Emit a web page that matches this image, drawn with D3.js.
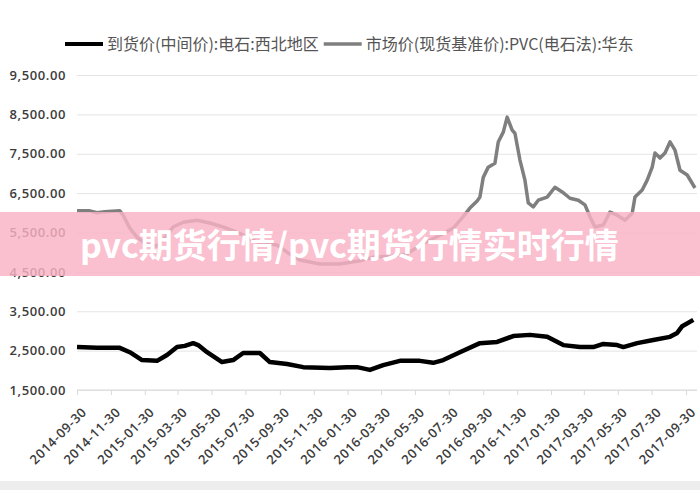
<!DOCTYPE html>
<html>
<head>
<meta charset="utf-8">
<script src="https://d3js.org/d3.v7.min.js"></script>
<style>
  body { margin: 0; background: #fff; }
  svg { display: block; }
</style>
</head>
<body>
<script>
'use strict';

// legend names
const seriesNames = ["到货价(中间价):电石:西北地区", "市场价(现货基准价):PVC(电石法):华东"];

// 到货价 电石 西北地区 (black line)
const carbideDates = ["2014-09-30", "2014-11-05", "2014-12-16", "2015-01-03", "2015-01-25", "2015-02-21",
  "2015-03-11", "2015-03-29", "2015-04-12", "2015-04-27", "2015-05-06", "2015-05-22", "2015-06-18",
  "2015-07-08", "2015-07-26", "2015-08-25", "2015-09-12", "2015-10-13", "2015-11-11", "2015-12-29",
  "2016-01-29", "2016-02-16", "2016-03-10", "2016-04-03", "2016-05-03", "2016-06-08", "2016-07-02",
  "2016-07-20", "2016-08-19", "2016-09-24", "2016-10-25", "2016-11-23", "2016-12-23", "2017-01-23",
  "2017-02-21", "2017-03-23", "2017-04-16", "2017-05-04", "2017-05-29", "2017-06-09", "2017-07-04",
  "2017-08-02", "2017-09-01", "2017-09-14", "2017-09-23", "2017-10-13"];
const carbideValues = [2590, 2570, 2570, 2460, 2260, 2240,
  2390, 2590, 2620, 2690, 2640, 2460, 2210,
  2260, 2440, 2440, 2210, 2160, 2080, 2060,
  2080, 2080, 2010, 2130, 2240, 2240, 2190,
  2260, 2460, 2690, 2720, 2870, 2900, 2850,
  2640, 2590, 2590, 2670, 2640, 2590, 2690,
  2770, 2850, 2950, 3120, 3280];

// 市场价 PVC 华东 (gray line)
const pvcDates = ["2014-09-30", "2014-10-23", "2014-11-05", "2014-11-19", "2014-12-16", "2014-12-22",
  "2015-01-03", "2015-01-16", "2015-02-03", "2015-02-21", "2015-03-09", "2015-03-22", "2015-04-09",
  "2015-05-04", "2015-05-27", "2015-06-20", "2015-07-15", "2015-08-20", "2015-09-25", "2015-10-13",
  "2015-11-05", "2015-12-11", "2016-01-16", "2016-02-21", "2016-03-19", "2016-04-15", "2016-05-16",
  "2016-06-08", "2016-07-14", "2016-08-07", "2016-08-23", "2016-09-06", "2016-09-19", "2016-09-24",
  "2016-09-30", "2016-10-09", "2016-10-21", "2016-10-27", "2016-11-05", "2016-11-12", "2016-11-21",
  "2016-11-26", "2016-12-05", "2016-12-14", "2016-12-20", "2016-12-29", "2017-01-07", "2017-01-23",
  "2017-02-06", "2017-02-19", "2017-03-05", "2017-03-20", "2017-04-01", "2017-04-10", "2017-04-19",
  "2017-05-04", "2017-05-16", "2017-05-29", "2017-06-12", "2017-06-25", "2017-06-30", "2017-07-13",
  "2017-07-22", "2017-07-31", "2017-08-05", "2017-08-14", "2017-08-23", "2017-09-01", "2017-09-10",
  "2017-09-19", "2017-10-02", "2017-10-16"];
const pvcValues = [6050, 6050, 6000, 6030, 6050, 5940,
  5610, 5380, 5200, 5150, 5400, 5640, 5760,
  5810, 5740, 5640, 5510, 5260, 5180, 5000,
  4800, 4700, 4700, 4780, 4880, 4900, 4950,
  5180, 5430, 5610, 5870, 6120, 6300, 6400,
  6900, 7160, 7260, 7800, 8050, 8430, 8100,
  8020, 7340, 6830, 6250, 6150, 6320, 6400,
  6650, 6530, 6370, 6320, 6200, 5900, 5640,
  5690, 6020, 5940, 5810, 5990, 6400, 6580,
  6830, 7160, 7520, 7390, 7520, 7800, 7590,
  7080, 6960, 6630];

// category labels on the x axis
const xTickLabels = ["2014-09-30", "2014-11-30", "2015-01-30", "2015-03-30", "2015-05-30", "2015-07-30",
  "2015-09-30", "2015-11-30", "2016-01-30", "2016-03-30", "2016-05-30", "2016-07-30", "2016-09-30",
  "2016-11-30", "2017-01-30", "2017-03-30", "2017-05-30", "2017-07-30", "2017-09-30"];
const yTickValues = [1500, 2500, 3500, 4500, 5500, 6500, 7500, 8500, 9500];

const bannerText = "pvc期货行情/pvc期货行情实时行情";

(function() {

  let svgContainer = ""; // keep SVG reference in global scope
  const parseDate = d3.timeParse("%Y-%m-%d");

  window.onload = function() {
    svgContainer = d3.select('body')
      .append('svg')
      .attr('width', 700)
      .attr('height', 490);

    let map = drawAxes();
    plotLines(map);
    makeLegend();
    makeBanner();
  }

  // axes, gridlines and tick labels
  function drawAxes() {
    let xScale = d3.scaleTime()
      .domain([parseDate("2014-09-30"), parseDate("2017-10-16")])
      .range([77, 695]);

    let yScale = d3.scaleLinear()
      .domain([1500, 9500])
      .range([390, 75]);

    // horizontal gridlines + y labels
    let yAxis = d3.axisLeft(yScale)
      .tickValues(yTickValues)
      .tickSize(-620)
      .tickPadding(11)
      .tickFormat(d3.format(",.2f"));
    let gy = svgContainer.append('g')
      .attr('transform', 'translate(77, 0)')
      .call(yAxis);
    gy.select('.domain').remove();
    gy.selectAll('line').style('stroke', '#e4e4e4');
    gy.selectAll('text')
      .style('font-family', '"Open Sans", sans-serif')
      .style('font-size', '13px')
      .style('font-weight', '600')
      .style('letter-spacing', '0.6px')
      .style('fill', '#3c3c3c');

    // x axis with rotated date labels
    let xAxis = d3.axisBottom(xScale)
      .tickValues(xTickLabels.map(parseDate))
      .tickSize(5)
      .tickFormat(d3.timeFormat("%Y-%m-%d"));
    let gx = svgContainer.append('g')
      .attr('transform', 'translate(0, 390)')
      .call(xAxis);
    gx.select('.domain')
      .attr('d', 'M77,0H697')
      .style('stroke', '#d9d9d9');
    gx.selectAll('line').style('stroke', '#d9d9d9');
    gx.selectAll('text')
      .attr('y', 0)
      .attr('dy', 0)
      .attr('transform', 'translate(10, 23) rotate(-45)')
      .style('text-anchor', 'end')
      .style('font-family', '"Open Sans", sans-serif')
      .style('font-size', '13px')
      .style('font-weight', '600')
      .style('letter-spacing', '0.6px')
      .style('fill', '#3c3c3c');

    return { x: xScale, y: yScale };
  }

  // the two price lines
  function plotLines(map) {
    let pvcData = pvcDates.map((d, i) => ({ date: parseDate(d), value: pvcValues[i] }));
    let carbideData = carbideDates.map((d, i) => ({ date: parseDate(d), value: carbideValues[i] }));

    let line = d3.line()
      .x((d) => map.x(d.date))
      .y((d) => map.y(d.value));

    svgContainer.append('path')
      .datum(pvcData)
      .attr('d', line)
      .style('fill', 'none')
      .style('stroke', '#7f7f7f')
      .style('stroke-width', 3.5)
      .style('stroke-linejoin', 'round');

    svgContainer.append('path')
      .datum(carbideData)
      .attr('d', line)
      .style('fill', 'none')
      .style('stroke', '#000')
      .style('stroke-width', 4.5)
      .style('stroke-linejoin', 'round');
  }

  // legend at the top
  function makeLegend() {
    let colors = ['#000', '#7f7f7f'];
    let widths = [4, 3.5];
    let x = 65;
    seriesNames.forEach((name, i) => {
      svgContainer.append('line')
        .attr('x1', x).attr('x2', x + 38)
        .attr('y1', 44).attr('y2', 44)
        .style('stroke', colors[i])
        .style('stroke-width', widths[i]);
      let t = svgContainer.append('text')
        .attr('x', x + 42)
        .attr('y', 44)
        .attr('dy', '0.35em')
        .style('font-family', '"Noto Sans CJK SC", sans-serif')
        .style('font-size', '16px')
        .style('fill', '#555')
        .text(name);
      x = x + 42 + t.node().getComputedTextLength() + 5;
    });
  }

  // pink watermark banner across the middle
  function makeBanner() {
    svgContainer.append('rect')
      .attr('x', 0).attr('y', 212)
      .attr('width', 700).attr('height', 64)
      .style('fill', 'rgba(250, 178, 196, 0.82)');

    svgContainer.append('text')
      .attr('x', 80)
      .attr('y', 258)
      .style('font-family', '"Noto Sans CJK SC", sans-serif')
      .style('font-size', '34px')
      .style('font-weight', '700')
      .style('fill', '#fff')
      .text(bannerText);

    // light strip at the bottom edge
    svgContainer.append('rect')
      .attr('x', 0).attr('y', 481)
      .attr('width', 700).attr('height', 9)
      .style('fill', '#ededed');
  }

})();
</script>
</body>
</html>
